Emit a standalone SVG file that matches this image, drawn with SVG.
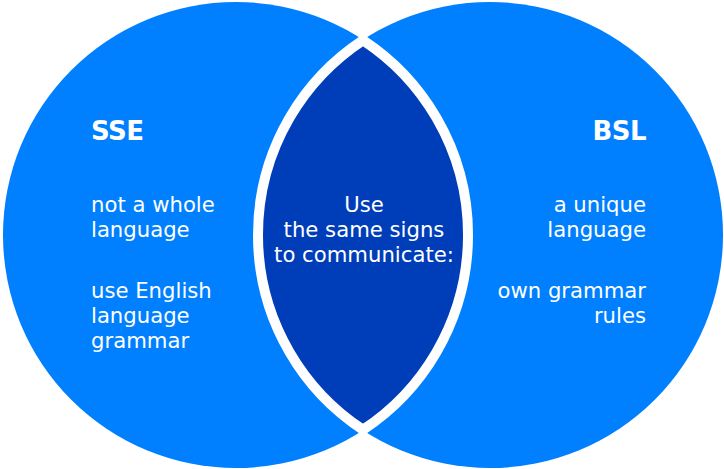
<svg xmlns="http://www.w3.org/2000/svg" width="724" height="469" viewBox="0 0 724 469">
  <style>
    .circle { fill: #0080fe; }
    .lens { fill: #003db8; stroke: #ffffff; stroke-width: 10; stroke-linejoin: round; }
    text { font-family: "DejaVu Sans", sans-serif; fill: #ffffff; }
    .title { font-size: 26px; font-weight: bold; letter-spacing: -0.5px; }
    .body { font-size: 21.2px; }
  </style>
  <rect width="724" height="469" fill="#ffffff"/>
  <g id="sse">
    <circle class="circle" cx="236" cy="235" r="233"/>
  </g>
  <g id="bsl">
    <circle class="circle" cx="490" cy="235" r="233"/>
  </g>
  <g id="overlap">
    <path class="lens" d="M363 40.3 A233 233 0 0 1 363 429.7 A233 233 0 0 1 363 40.3 Z"/>
  </g>
  <g id="connectors"/>
  <g id="sse-text">
    <text class="title" x="91" y="140">SSE</text>
    <text class="body" x="91" y="212">not a whole</text>
    <text class="body" x="91" y="237">language</text>
    <text class="body" x="91" y="298">use English</text>
    <text class="body" x="91" y="323">language</text>
    <text class="body" x="91" y="348">grammar</text>
  </g>
  <g id="bsl-text" text-anchor="end">
    <text class="title" x="646" y="140">BSL</text>
    <text class="body" x="646" y="212">a unique</text>
    <text class="body" x="646" y="237">language</text>
    <text class="body" x="646" y="298">own grammar</text>
    <text class="body" x="646" y="323">rules</text>
  </g>
  <g id="overlap-text" text-anchor="middle">
    <text class="body" x="364" y="212">Use</text>
    <text class="body" x="364" y="237">the same signs</text>
    <text class="body" x="364" y="262">to communicate:</text>
  </g>
</svg>
